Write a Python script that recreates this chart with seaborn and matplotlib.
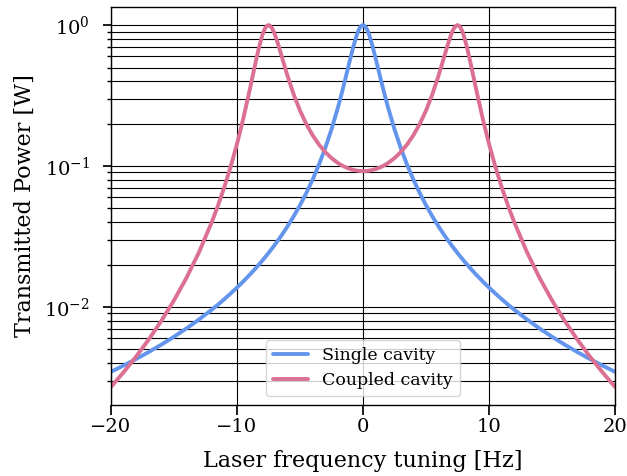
import matplotlib
matplotlib.use("Agg")
import matplotlib.pyplot as plt
import seaborn as sns
import pandas as pd

# Detuning values [Hz]
freq = [-20, -19, -18, -17, -16, -15, -14, -13, -12, -11.5, -11, -10.5, -10, -9.5, -9,
        -8.75, -8.5, -8.25, -8, -7.875, -7.75, -7.625, -7.5, -7.375, -7.25, -7.125, -7,
        -6.75, -6.5, -6.25, -6, -5.5, -5,
        -4.5, -4, -3.5, -3, -2.5, -2, -1.75, -1.5, -1.25, -1, -0.75, -0.5, -0.375, -0.25,
        -0.125, 0,
        0.125, 0.25, 0.375, 0.5, 0.75, 1, 1.25, 1.5, 1.75, 2, 2.5, 3, 3.5, 4, 4.5, 5, 5.5,
        6, 6.25, 6.5, 6.75, 7, 7.125, 7.25, 7.375, 7.5, 7.625, 7.75, 7.875, 8, 8.25, 8.5,
        8.75, 9, 9.5, 10, 10.5, 11, 11.5, 12, 13, 14, 15, 16, 17, 18, 19, 20]

single_cavity = [0.003469, 0.003842, 0.004279, 0.004795, 0.005410, 0.006150, 0.007054,
                 0.008172, 0.009577, 0.01041, 0.01138, 0.01248, 0.01373, 0.01519, 0.01690,
                 0.01786, 0.01891, 0.02005, 0.02129, 0.02196, 0.02266, 0.02339, 0.02416,
                 0.02497, 0.02581, 0.02669, 0.02763,
                 0.02966, 0.03190, 0.03441, 0.03724, 0.04400, 0.05276, 0.06434, 0.08006,
                 0.1021, 0.1340, 0.1822, 0.2582, 0.3126, 0.3823, 0.4712, 0.5820, 0.7123,
                 0.8478, 0.9083, 0.9570, 0.9889, 1.0,
                 0.9889, 0.9570, 0.9083, 0.8478, 0.7123, 0.5820, 0.4712, 0.3823, 0.3126,
                 0.2582, 0.1822, 0.1340, 0.1021, 0.08006, 0.06434, 0.05276, 0.04400,
                 0.03724, 0.03441, 0.03190, 0.02966, 0.02763, 0.02669, 0.02581, 0.02497,
                 0.02416, 0.02339, 0.02266, 0.02196, 0.02129, 0.02005, 0.01891, 0.01786,
                 0.01690, 0.01519, 0.01373, 0.01248, 0.01138, 0.01041,
                 0.009577, 0.008172, 0.007054, 0.006150, 0.005410, 0.004795, 0.004279,
                 0.003842, 0.003469]

coupled_cavity = [0.002710, 0.003445, 0.004458, 0.005891, 0.007982, 0.01115, 0.01617,
                  0.02463, 0.04002, 0.05265, 0.07113, 0.09918, 0.14363, 0.21735, 0.34387,
                  0.43760, 0.55635, 0.69704, 0.84240, 0.90614, 0.95667, 0.98897, 1.0,
                  0.98934, 0.95936, 0.91433, 0.85929,
                  0.73758, 0.62091, 0.52079, 0.43911, 0.32199, 0.24741, 0.19853, 0.16539,
                  0.14224, 0.12572, 0.11380, 0.10522, 0.10192, 0.09918, 0.09694, 0.09516,
                  0.09381, 0.09287, 0.09255, 0.09230, 0.09216, 0.09212,
                  0.09216, 0.09230, 0.09255, 0.09287, 0.09381, 0.09516, 0.09694, 0.09918,
                  0.10192, 0.10522, 0.11380, 0.12572, 0.14224, 0.16539, 0.19853, 0.24741,
                  0.32199, 0.43911, 0.52079, 0.62091, 0.73758, 0.85929, 0.91433, 0.95936,
                  0.98934, 1.0, 0.98897, 0.95667, 0.90614, 0.84240, 0.69704, 0.55635,
                  0.43760, 0.34387, 0.21735, 0.14363, 0.09918, 0.07113, 0.05265,
                  0.04002, 0.02463, 0.01617, 0.01115, 0.007982, 0.005891,
                  0.004458, 0.003445, 0.002710]

series_names = ["Single cavity", "Coupled cavity"]
colors = ["#6495ED", "#DB7093"]
x_ticks = [-20, -10, 0, 10, 20]

df = pd.DataFrame({
    "Laser frequency tuning [Hz]": freq * 2,
    "Transmitted Power [W]": single_cavity + coupled_cavity,
    "series": [series_names[0]] * len(freq) + [series_names[1]] * len(freq),
})

sns.set_theme(style="ticks")
plt.rcParams["font.family"] = ["DejaVu Serif"]
plt.rcParams["mathtext.fontset"] = "dejavuserif"
plt.rcParams["text.color"] = "black"

fig = plt.figure(figsize=(6.27, 4.76), dpi=100)
ax = fig.add_axes([111 / 627, 71 / 476, 504 / 627, 398 / 476])

sns.lineplot(data=df, x="Laser frequency tuning [Hz]", y="Transmitted Power [W]",
             hue="series", palette=dict(zip(series_names, colors)), linewidth=2.8,
             ax=ax, sort=False)
ax.set_yscale("log")
ax.set_xlim(-20, 20)
ax.set_xticks(x_ticks)
ax.grid(which="major", axis="both", color="black", linewidth=0.8)
ax.grid(which="minor", axis="y", color="black", linewidth=0.8)
for s in ax.spines.values():
    s.set_color("black")
    s.set_linewidth(1.0)
ax.tick_params(axis="x", which="major", labelsize=14, direction="out", length=7, pad=2.5,
               color="black", labelcolor="black")
ax.tick_params(axis="y", which="major", labelsize=14, direction="out", length=6, pad=9,
               color="black", labelcolor="black")
ax.tick_params(axis="y", which="minor", length=3, color="black")
ax.set_xlabel("Laser frequency tuning [Hz]", fontsize=16, color="black", labelpad=10)
ax.set_ylabel("Transmitted Power [W]", fontsize=16, color="black", labelpad=6)
leg = ax.legend(loc="lower center", fontsize=12.5, frameon=True, framealpha=0.8,
                edgecolor="#cccccc", fancybox=True)
for t in leg.get_texts():
    t.set_color("black")
for line in leg.get_lines():
    line.set_linewidth(2.8)

fig.savefig("out.png", dpi=100)
